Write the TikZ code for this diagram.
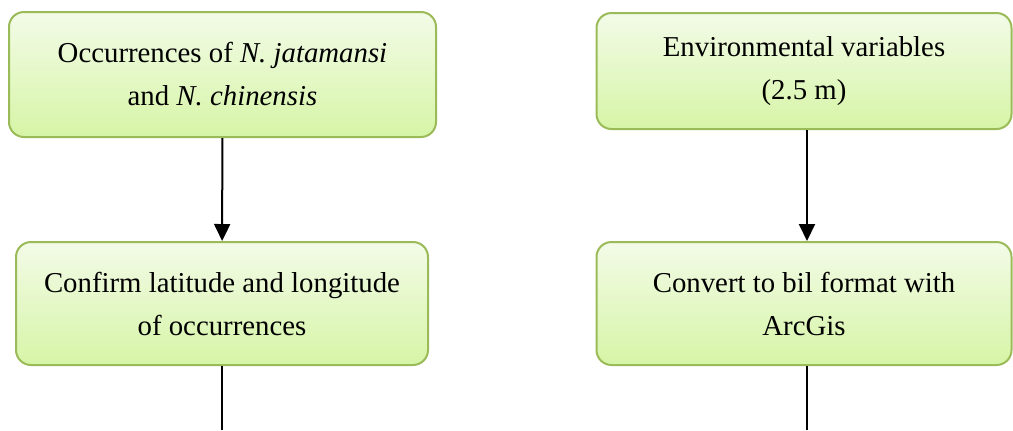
\documentclass[tikz,border=0pt]{standalone}
\usepackage{fontspec}
\setmainfont{Liberation Serif}
\usepackage{tikz}
\usetikzlibrary{arrows.meta}

\definecolor{boxline}{RGB}{155,187,89}
\definecolor{boxtop}{RGB}{243,251,232}
\definecolor{boxbottom}{RGB}{214,245,166}

\tikzset{
  stepbox/.style={draw=boxline,line width=1pt,rounded corners=7.5pt,
    top color=boxtop,bottom color=boxbottom,align=center,inner sep=0pt,
    font=\fontsize{14.4}{21.5}\selectfont},
  flow/.style={line width=1pt,-{Triangle[length=8.5pt,width=8pt]}}
}

\begin{document}
\begin{tikzpicture}[x=0.5pt,y=-0.5pt]

    \useasboundingbox (0,0) rectangle (1013,430);

    \node[stepbox,minimum width=213.5pt,minimum height=62.5pt] (occ) at (222.5,74.5)
    {Occurrences of \textit{N. jatamansi}\\
      and \textit{N. chinensis}};

    \node[stepbox,minimum width=206pt,minimum height=61.5pt] (conf) at (222,303.5)
    {Confirm latitude and longitude\\
      of occurrences};



    \node[stepbox,minimum width=207.5pt,minimum height=58pt] (env) at (804,71)
    {Environmental variables\\
      (2.5 m)};

    \node[stepbox,minimum width=207.5pt,minimum height=61.5pt] (conv) at (804,303.5)
    {Convert to bil format with\\
      ArcGis};



    \coordinate (confout) at (222,430);
    \coordinate (convout) at (807,430);

    \draw[flow] (occ) -- (conf);
    \draw[line width=1pt] (conf) -- (confout);

    \draw[flow] ([xshift=1.5pt]env.south) -- ([xshift=1.5pt]conv.north);
    \draw[line width=1pt] ([xshift=1.5pt]conv.south) -- (convout);

\end{tikzpicture}
\end{document}
